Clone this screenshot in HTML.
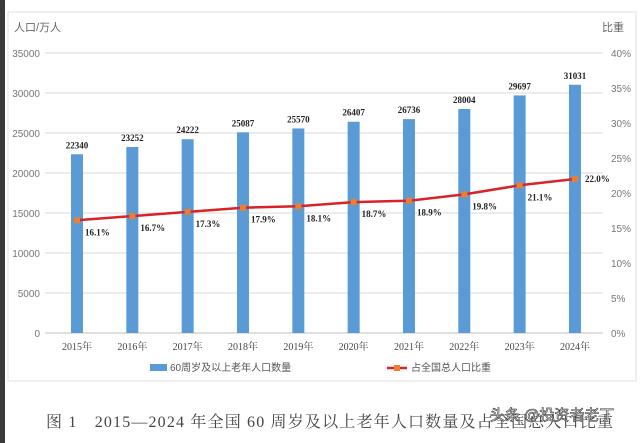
<!DOCTYPE html>
<html><head><meta charset="utf-8"><style>
html,body{margin:0;padding:0;background:#fff;width:640px;height:443px;overflow:hidden}
svg{display:block}
</style></head><body>
<svg width="640" height="443" viewBox="0 0 640 443">
<rect x="0" y="0" width="5" height="443" fill="#3a3a3a"/>
<rect x="8" y="12" width="628" height="369" fill="#fff" stroke="#e2e2e2"/>
<g id="grid"></g>
<g id="bars"></g>
<g id="line"></g>
<g id="labels" font-family="Liberation Serif, serif"></g>
<text x="14" y="31" font-family="Liberation Sans, Noto Sans CJK SC, sans-serif" font-size="11" fill="#666">人口/万人</text>
<text x="602" y="31" font-family="Liberation Sans, Noto Sans CJK SC, sans-serif" font-size="11" fill="#666">比重</text>
<g font-family="Liberation Sans, Noto Sans CJK SC, sans-serif" font-size="10" fill="#555">
<rect x="150" y="364" width="17" height="7" fill="#5b9bd5"/>
<text x="170" y="371">60周岁及以上老年人口数量</text>
<line x1="387" y1="368" x2="407" y2="368" stroke="#d9232a" stroke-width="2.5"/>
<rect x="394" y="365" width="6" height="6" fill="#ed7d31"/>
<text x="411" y="371">占全国总人口比重</text>
</g>
<text x="46" y="427" textLength="567" lengthAdjust="spacing" font-family="Liberation Serif, Noto Serif CJK SC, serif" font-size="16" fill="#444">图 1　2015—2024 年全国 60 周岁及以上老年人口数量及占全国总人口比重</text>
<text x="490" y="420" font-family="Liberation Sans, Noto Sans CJK SC, sans-serif" font-size="15" fill="#fff" stroke="#333" stroke-width="0.6">头条 @投资者老丁</text>
</svg>
<script>
const years=['2015年','2016年','2017年','2018年','2019年','2020年','2021年','2022年','2023年','2024年'];
const population=[22340,23252,24222,25087,25570,26407,26736,28004,29697,31031];
const ratio=[16.1,16.7,17.3,17.9,18.1,18.7,18.9,19.8,21.1,22.0];
const leftTicks=[0,5000,10000,15000,20000,25000,30000,35000];
const rightTicks=[0,5,10,15,20,25,30,35,40];
const NS='http://www.w3.org/2000/svg';
const y0=333, yTop=53;
const yL=v=>y0-v/35000*(y0-yTop);
const yR=v=>y0-v/40*(y0-yTop);
const xC=i=>77+i*55.33;
function mk(t,a,p,txt){const e=document.createElementNS(NS,t);for(const k in a)e.setAttribute(k,a[k]);if(txt!=null)e.textContent=txt;document.getElementById(p).appendChild(e);return e;}
leftTicks.forEach(v=>{
 const l=mk('line',{x1:45,x2:603,y1:yL(v),y2:yL(v),stroke:v===0?'#bfbfbf':'#d9d9d9','stroke-width':1},'grid');
 
 
 const t=mk('text',{x:40,y:yL(v)+4,'text-anchor':'end','font-size':10,fill:'#777','font-family':'Liberation Sans, sans-serif'},'grid',v);
 
 
});
rightTicks.forEach(v=>{
 const t=mk('text',{x:611,y:yR(v)+4,'font-size':10,fill:'#777','font-family':'Liberation Sans, sans-serif'},'grid',v+'%');
 
 
});
population.forEach((v,i)=>{
 const b=mk('rect',{x:xC(i)-6,y:yL(v),width:12,height:y0-yL(v),fill:'#5b9bd5'},'bars');
 
 
 const t=mk('text',{x:xC(i),y:yL(v)-6,'text-anchor':'middle','font-size':9,'font-weight':'bold',fill:'#222'},'labels',v);
 
 
 const x=mk('text',{x:xC(i),y:350,'text-anchor':'middle','font-size':10,fill:'#444','font-family':'Liberation Serif, Noto Serif CJK SC, serif'},'labels',years[i]);
 
 
});
const pl=mk('polyline',{points:ratio.map((v,i)=>xC(i)+','+yR(v)).join(' '),fill:'none',stroke:'#d9232a','stroke-width':2.5},'line');


ratio.forEach((v,i)=>{
 const m=mk('rect',{x:xC(i)-3,y:yR(v)-3,width:6,height:6,fill:'#ed7d31'},'line');
 
 
 const last=i===ratio.length-1;
 const t=mk('text',{x:xC(i)+(last?10:8),y:yR(v)+(last?3:15),'font-size':9,'font-weight':'bold',fill:'#222'},'labels',v.toFixed(1)+'%');
 
 
});
</script>
</body></html>
